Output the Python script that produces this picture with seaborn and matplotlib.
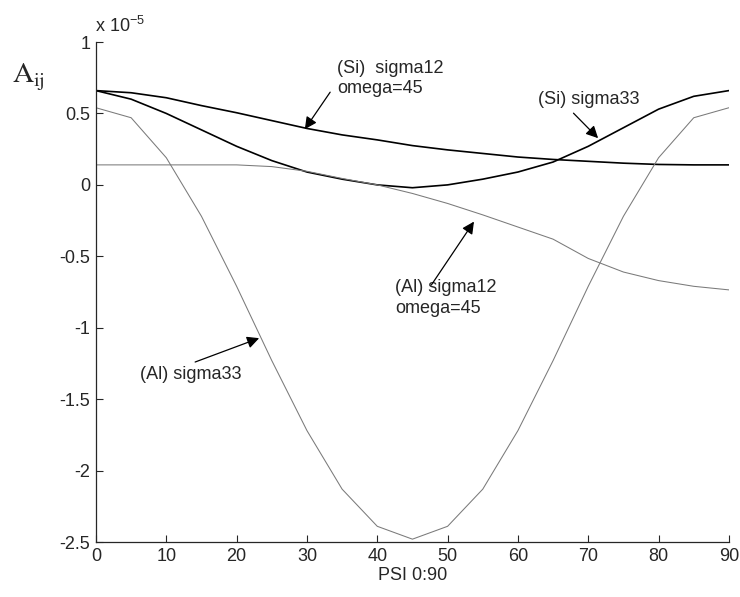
import numpy as np
import pandas as pd
import matplotlib
matplotlib.use("Agg")
import matplotlib.pyplot as plt
import seaborn as sns
from matplotlib.ticker import FuncFormatter

# PSI angle (degrees), values in units of 1e-5
psi = list(range(0, 91, 5))

si_sigma12 = [0.66, 0.645, 0.61, 0.555, 0.505, 0.45, 0.395, 0.35, 0.315, 0.275,
              0.245, 0.22, 0.195, 0.178, 0.165, 0.152, 0.143, 0.14, 0.14]
si_sigma33 = [0.66, 0.60, 0.50, 0.385, 0.27, 0.17, 0.09, 0.04, 0.0, -0.02,
              0.0, 0.04, 0.09, 0.16, 0.27, 0.40, 0.53, 0.62, 0.66]
al_sigma12 = [0.14, 0.14, 0.14, 0.14, 0.14, 0.128, 0.095, 0.045, 0.0, -0.06,
              -0.13, -0.21, -0.295, -0.38, -0.515, -0.61, -0.67, -0.71, -0.735]
al_sigma33 = [0.54, 0.47, 0.19, -0.22, -0.71, -1.23, -1.72, -2.13, -2.39, -2.48,
              -2.39, -2.13, -1.72, -1.23, -0.71, -0.22, 0.19, 0.47, 0.54]

y_ticks = [1, 0.5, 0, -0.5, -1, -1.5, -2, -2.5]
x_ticks = list(range(0, 91, 10))

df = pd.DataFrame({
    "PSI": psi * 4,
    "A": si_sigma12 + si_sigma33 + al_sigma12 + al_sigma33,
    "curve": (["Si sigma12"] * len(psi) + ["Si sigma33"] * len(psi)
              + ["Al sigma12"] * len(psi) + ["Al sigma33"] * len(psi)),
})

sns.set_style("ticks")
plt.rcParams["font.family"] = ["Liberation Sans", "DejaVu Sans"]
plt.rcParams["axes.unicode_minus"] = False
plt.rcParams["mathtext.default"] = "regular"

fig = plt.figure(figsize=(7.4, 5.97), dpi=100)
ax = fig.add_axes([0.1297, 0.0921, 0.8553, 0.8375])

colors = {"Si sigma12": "black", "Si sigma33": "black",
          "Al sigma12": "#7a7a7a", "Al sigma33": "#7a7a7a"}
widths = {"Si sigma12": 1.2, "Si sigma33": 1.2,
          "Al sigma12": 0.75, "Al sigma33": 0.75}
for name, sub in df.groupby("curve", sort=False):
    sns.lineplot(data=sub, x="PSI", y="A", ax=ax, color=colors[name],
                 linewidth=widths[name], legend=False)

ax.set_xlim(0, 90)
ax.set_ylim(-2.5, 1)
ax.set_xticks(x_ticks)
ax.set_yticks(y_ticks)
ax.yaxis.set_major_formatter(FuncFormatter(lambda v, p: f"{v:g}"))
fs = 13
ax.tick_params(direction="in", length=5, width=0.8, labelsize=fs, pad=4)
for side in ["top", "right"]:
    ax.spines[side].set_visible(False)
for side in ["left", "bottom"]:
    ax.spines[side].set_linewidth(0.9)
ax.set_xlabel("PSI 0:90", fontsize=fs, labelpad=2)
ax.set_ylabel("")

ax.text(-0.1, 1.11, "x 10$^{-5}$", fontsize=fs, ha="left", va="center",
        clip_on=False)
fig.text(0.016, 0.863, r"$\mathrm{A}_{\mathrm{ij}}$", fontsize=21,
         math_fontfamily="stix", va="baseline", ha="left")

arrow = dict(arrowstyle="-|>", color="black", lw=0.9, mutation_scale=18,
             shrinkA=0, shrinkB=0)

# (Si) sigma12
ax.text(34.3, 0.745, "(Si)  sigma12\nomega=45", fontsize=fs, ha="left",
        va="center", linespacing=1.25)
ax.annotate("", xy=(29.7, 0.39), xytext=(33.3, 0.649), arrowprops=arrow)

# (Si) sigma33
ax.text(62.85, 0.595, "(Si) sigma33", fontsize=fs, ha="left", va="center")
ax.annotate("", xy=(71.4, 0.327), xytext=(67.9, 0.502), arrowprops=arrow)

# (Al) sigma12
ax.text(42.5, -0.791, "(Al) sigma12\nomega=45", fontsize=fs, ha="left",
        va="center", linespacing=1.25)
ax.annotate("", xy=(53.75, -0.257), xytext=(47.7, -0.70), arrowprops=arrow)

# (Al) sigma33
ax.text(6.26, -1.33, "(Al) sigma33", fontsize=fs, ha="left", va="center")
ax.annotate("", xy=(23.2, -1.073), xytext=(14.1, -1.24), arrowprops=arrow)

fig.savefig("out.png", dpi=100)
plt.close(fig)
